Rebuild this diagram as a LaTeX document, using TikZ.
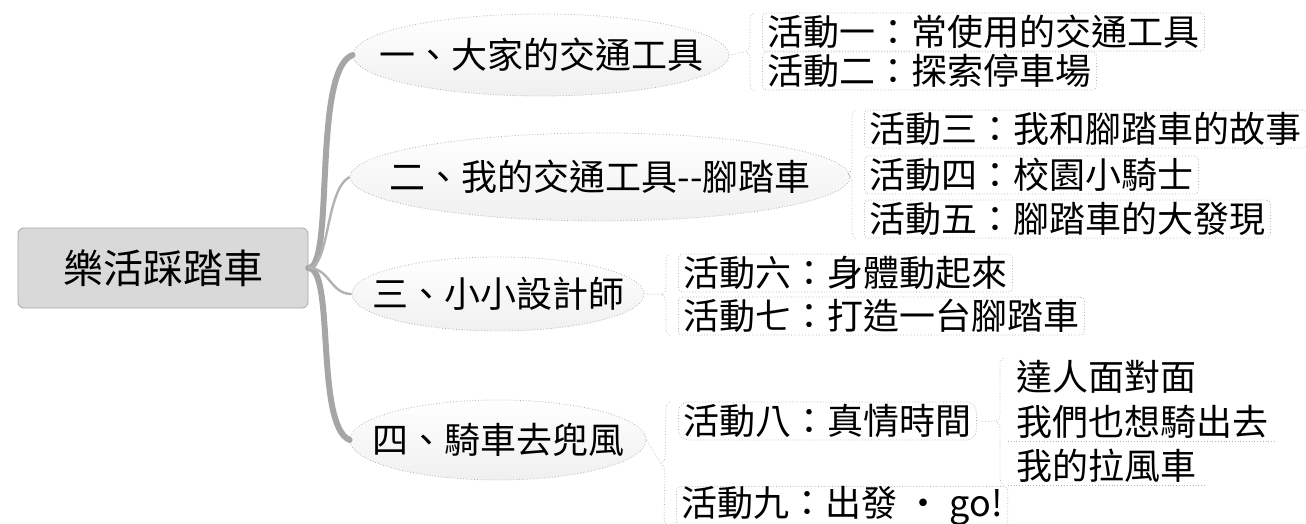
\documentclass[tikz,border=0pt]{standalone}
\usepackage{fontspec}
\newfontfamily\cjk{Noto Sans CJK TC}
\usepackage{tikz}
\usetikzlibrary{shapes.geometric,decorations.pathreplacing,calc}

\begin{document}
\begin{tikzpicture}[x=0.5pt,y=-0.5pt,
    rootbox/.style={draw=gray!70,fill=gray!30,rounded corners=3pt,minimum width=145pt,minimum height=40pt,font=\cjk\fontsize{20}{22}\selectfont},
    stage/.style={ellipse,draw=gray!60,densely dotted,top color=white,bottom color=gray!12,inner sep=0pt,font=\cjk\fontsize{18}{20}\selectfont},
    act/.style={anchor=west,draw=gray!60,densely dotted,rounded corners=2pt,inner xsep=2.5pt,inner ysep=0pt,minimum height=19pt,font=\cjk\fontsize{18}{20}\selectfont},
    leaf/.style={anchor=west,inner xsep=4pt,inner ysep=0pt,minimum height=19pt,font=\cjk\fontsize{18}{20}\selectfont},
    trunk/.style={gray!70,line width=3pt,line cap=round},
    twig/.style={gray!60,line width=1.2pt},
    link/.style={gray!50,densely dotted,thin},
    grp/.style={gray!55,densely dotted,decorate,decoration={brace,amplitude=4pt}},
    uline/.style={gray!60,densely dotted}]
    \useasboundingbox (0,0) rectangle (1306,524);
    \clip (0,0) rectangle (1306,524);

    \node[rootbox] (root) at (163,268) {樂活踩踏車};

    \node[stage,minimum width=188pt,minimum height=41pt] (e1) at (541,55) {\makebox[0pt]{一、大家的交通工具}};
    \node[stage,minimum width=250pt,minimum height=44pt] (e2) at (600,177) {\makebox[0pt]{二、我的交通工具--腳踏車}};
    \node[stage,minimum width=146pt,minimum height=37pt] (e3) at (498,294) {\makebox[0pt]{三、小小設計師}};
    \node[stage,minimum width=148pt,minimum height=40pt] (e4) at (498,440) {\makebox[0pt]{四、騎車去兜風}};

    \draw[trunk] (root.east) .. controls (335,268) and (312,70) .. (e1.west);
    \draw[trunk] (root.east) .. controls (335,268) and (315,425) .. (e4.west);
    \draw[twig] (root.east) .. controls (330,268) and (325,190) .. (e2.west);
    \draw[twig] (root.east) .. controls (330,268) and (330,294) .. (e3.west);

    \node[act] (c1) at (762,32) {活動一：常使用的交通工具};
    \node[act] (c2) at (762,71) {活動二：探索停車場};
    \node[act] (c3) at (864,129) {活動三：我和腳踏車的故事};
    \node[act] (c4) at (864,175) {活動四：校園小騎士};
    \node[act] (c5) at (864,219) {活動五：腳踏車的大發現};
    \node[act] (c6) at (678,273) {活動六：身體動起來};
    \node[act] (c7) at (678,316) {活動七：打造一台腳踏車};
    \node[act,rounded corners=5pt] (c8) at (678,421) {活動八：真情時間};
    \node[act] (c9) at (676,506) {活動九：出發 · go!};

    \node[leaf] (d1) at (1008,377) {達人面對面};
    \node[leaf] (d2) at (1008,422) {我們也想騎出去};
    \node[leaf] (d3) at (1008,466) {我的拉風車};
    \draw[uline] (d2.south west) -- (d2.south east);
    \draw[uline] (d3.south west) -- (d3.south east);

    % braces
    \draw[grp] ([xshift=-4pt]c2.south west) -- ([xshift=-4pt]c1.north west);
    \draw[grp] ([xshift=-4pt]c5.south west) -- ([xshift=-4pt]c3.north west);
    \draw[grp] ([xshift=-4pt]c7.south west) -- ([xshift=-4pt]c6.north west);
    \draw[grp] ([xshift=-4pt]c9.south west) -- ([xshift=-4pt]c8.north west);
    \draw[grp] ([xshift=-2pt]d3.south west) -- ([xshift=-2pt]d1.north west);

    \coordinate (k1) at ($(c1.north west)!.5!(c2.south west)+(-16,0)$);
    \coordinate (k2) at ($(c3.north west)!.5!(c5.south west)+(-16,0)$);
    \coordinate (k3) at ($(c6.north west)!.5!(c7.south west)+(-16,0)$);
    \coordinate (k4) at ($(c8.north west)!.5!(c9.south west)+(-16,0)$);
    \coordinate (k5) at ($(d1.north west)!.5!(d3.south west)+(-12,0)$);

    \draw[link] (e1.east) -- (k1);
    \draw[link] (e2.east) -- (k2);
    \draw[link] (e3.east) -- (k3);
    \draw[link] (e4.east) -- (k4);
    \draw[link] (c8.east) -- (k5);
\end{tikzpicture}
\end{document}
